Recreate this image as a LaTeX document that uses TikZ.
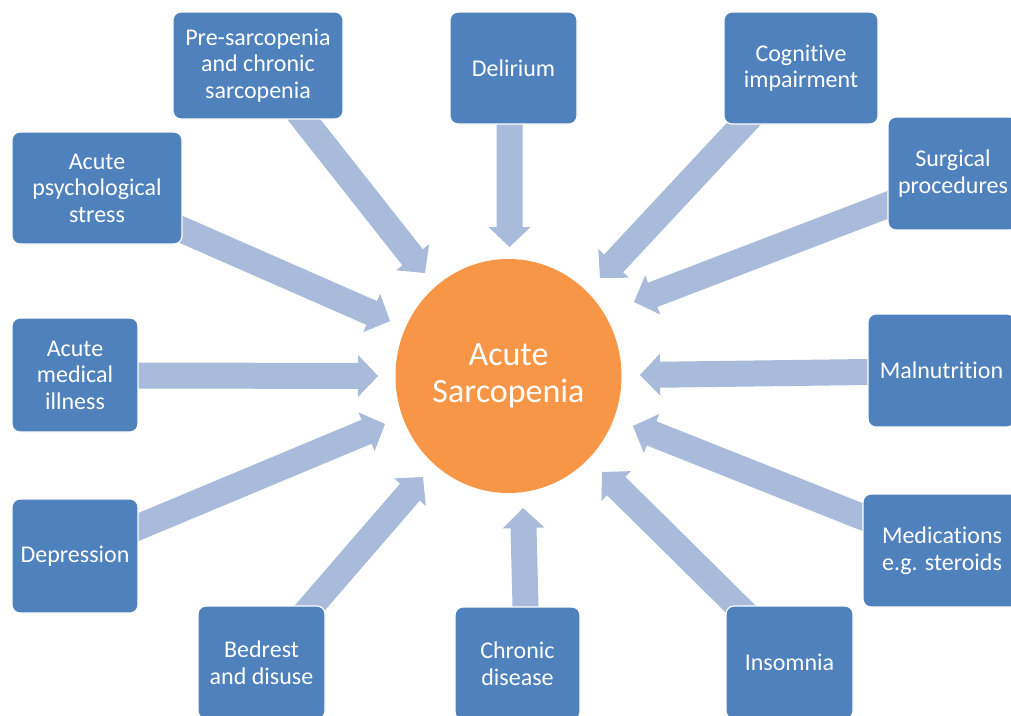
\documentclass[tikz,border=0pt]{standalone}
\usepackage{fontspec}
\setmainfont{Carlito}[Ligatures=NoCommon]
\usetikzlibrary{calc,backgrounds,shapes.geometric}
\definecolor{boxc}{RGB}{79,129,189}
\definecolor{arrowc}{RGB}{168,187,218}
\definecolor{circc}{RGB}{247,150,70}
% #1 = exit point on box edge, #2 = tip
\newcommand{\blockarrow}[2]{%
  \coordinate (ba0) at ($(#1)!-18pt!(#2)$);
  \coordinate (bab) at ($(#2)!20pt!(#1)$);
  \fill[arrowc] ($(ba0)!13pt!90:(#2)$) -- ($(bab)!13pt!90:(#2)$) -- ($(bab)!21pt!90:(#2)$)
    -- (#2) -- ($(bab)!21pt!-90:(#2)$) -- ($(bab)!13pt!-90:(#2)$) -- ($(ba0)!13pt!-90:(#2)$) -- cycle;
}
\begin{document}
\begin{tikzpicture}[x=1pt,y=-1pt,
  box/.style={rectangle, rounded corners=8pt, fill=boxc, draw=white, line width=1.2pt,
    text=white, font=\fontsize{24}{26.5}\selectfont, align=center, inner sep=0pt},
  hub/.style={ellipse, fill=circc, draw=none, text=white, inner sep=0pt,
    minimum width=226pt, minimum height=234pt, font=\fontsize{34}{37.5}\selectfont, align=center}]
\useasboundingbox (0,0) rectangle (1011,715);
\clip (0,0) rectangle (1011,715);

\node[hub] (sarc) at (508.5,376) {Acute\\Sarcopenia};

\node[box, minimum width=170pt, minimum height=107pt] (pre) at (258,65.5) {Pre-sarcopenia\\and chronic\\sarcopenia};
\node[box, minimum width=127pt, minimum height=112pt] (del) at (513.5,68) {Delirium};
\node[box, minimum width=154pt, minimum height=112pt] (cog) at (801,68) {Cognitive\\impairment};
\node[box, minimum width=170pt, minimum height=112pt] (psy) at (97,188) {Acute\\psychological\\stress};
\node[box, minimum width=130pt, minimum height=113pt] (sur) at (953,173.5) {Surgical\\procedures};
\node[box, minimum width=126pt, minimum height=114pt] (med) at (75,375) {Acute\\medical\\illness};
\node[box, minimum width=147pt, minimum height=113pt] (mal) at (941.5,370.5) {Malnutrition};
\node[box, minimum width=126pt, minimum height=114pt] (dep) at (75,556) {Depression};
\node[box, minimum width=158pt, minimum height=113pt] (drg) at (942,550.5) {Medications\\e.g. steroids};
\node[box, minimum width=127pt, minimum height=113pt] (bed) at (261.5,662.5) {Bedrest\\and disuse};
\node[box, minimum width=125pt, minimum height=113pt] (chr) at (517.5,663.5) {Chronic\\disease};
\node[box, minimum width=127pt, minimum height=113pt] (ins) at (789.5,662.5) {Insomnia};

% exit points on the boxes
\coordinate (epre) at ($(pre.south)+(46,0)$);
\coordinate (edel) at ($(del.south)+(-4,0)$);
\coordinate (ecog) at ($(cog.south)+(-58,0)$);
\coordinate (epsy) at ($(psy.east)+(0,42)$);
\coordinate (esur) at ($(sur.west)+(0,31.5)$);
\coordinate (emed) at ($(med.east)+(0,0.5)$);
\coordinate (emal) at ($(mal.west)+(0,1.5)$);
\coordinate (edep) at ($(dep.east)+(0,-29)$);
\coordinate (edrg) at ($(drg.west)+(0,-33.5)$);
\coordinate (ebed) at ($(bed.north)+(50.5,0)$);
\coordinate (echr) at ($(chr.north)+(8,0)$);
\coordinate (eins) at ($(ins.north)+(-52.5,0)$);
% arrow tips around the hub
\coordinate (tpre) at (425,273);
\coordinate (tdel) at (509.5,247);
\coordinate (tcog) at (600,278);
\coordinate (tpsy) at (390,321);
\coordinate (tsur) at (634,302);
\coordinate (tmed) at (378,376);
\coordinate (tmal) at (640,375);
\coordinate (tdep) at (385,424);
\coordinate (tdrg) at (633,426);
\coordinate (tbed) at (423,477);
\coordinate (tchr) at (523,508);
\coordinate (tins) at (602,472);

\begin{pgfonlayer}{background}
\fill[white] (0,0) rectangle (1011,715);
\blockarrow{epre}{tpre}
\blockarrow{edel}{tdel}
\blockarrow{ecog}{tcog}
\blockarrow{epsy}{tpsy}
\blockarrow{esur}{tsur}
\blockarrow{emed}{tmed}
\blockarrow{emal}{tmal}
\blockarrow{edep}{tdep}
\blockarrow{edrg}{tdrg}
\blockarrow{ebed}{tbed}
\blockarrow{echr}{tchr}
\blockarrow{eins}{tins}
\end{pgfonlayer}
\end{tikzpicture}
\end{document}
